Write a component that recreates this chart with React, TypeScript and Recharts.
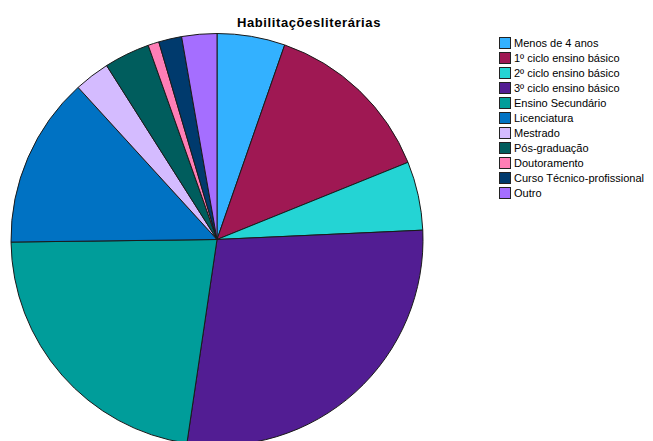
import { PieChart, Pie, Cell } from 'recharts';

const categories = [
  'Menos de 4 anos',
  '1º ciclo ensino básico',
  '2º ciclo ensino básico',
  '3º ciclo ensino básico',
  'Ensino Secundário',
  'Licenciatura',
  'Mestrado',
  'Pós-graduação',
  'Doutoramento',
  'Curso Técnico-profissional',
  'Outro',
];

// percentages
const values = [5.33, 13.56, 5.39, 28.06, 22.47, 13.42, 2.78, 3.58, 0.86, 1.81, 2.75];

const colors = [
  '#33b1ff',
  '#9f1853',
  '#24d4d4',
  '#521d93',
  '#009d9a',
  '#0072c3',
  '#d4bbff',
  '#005d5d',
  '#ff7eb6',
  '#003a6d',
  '#a56eff',
];

const data = categories.map((name, i) => ({ name, value: values[i] }));

const font = '"Liberation Sans", Arial, sans-serif';

function LegendBox() {
  return (
    <div
      style={{
        position: 'absolute',
        left: 499,
        top: 35,
        fontFamily: font,
        fontSize: 11,
        color: '#000',
      }}
    >
      {categories.map((name, i) => (
        <div key={name} style={{ display: 'flex', alignItems: 'center', height: 15 }}>
          <span
            style={{
              width: 10,
              height: 10,
              background: colors[i],
              border: '1px solid #222',
              marginRight: 3,
              flexShrink: 0,
            }}
          />
          <span style={{ whiteSpace: 'nowrap' }}>{name}</span>
        </div>
      ))}
    </div>
  );
}

export default function App() {
  return (
    <div style={{ position: 'absolute', left: 0, top: 0, width: 653, height: 441, background: '#fff', overflow: 'hidden' }}>
      <PieChart width={653} height={441} margin={{ top: 0, right: 0, bottom: 0, left: 0 }}>
        <Pie
          data={data}
          dataKey="value"
          nameKey="name"
          cx={217}
          cy={239.5}
          outerRadius={206}
          startAngle={90}
          endAngle={-270}
          stroke="#1a1a1a"
          strokeWidth={1}
          isAnimationActive={false}
        >
          {data.map((d, i) => (
            <Cell key={d.name} fill={colors[i]} />
          ))}
        </Pie>
      </PieChart>
      <div
        style={{
          position: 'absolute',
          left: 237,
          top: 15,
          fontFamily: font,
          fontSize: 13,
          letterSpacing: 0.6,
          fontWeight: 'bold',
          color: '#000',
        }}
      >
        Habilitaçõesliterárias
      </div>
      <LegendBox />
    </div>
  );
}
